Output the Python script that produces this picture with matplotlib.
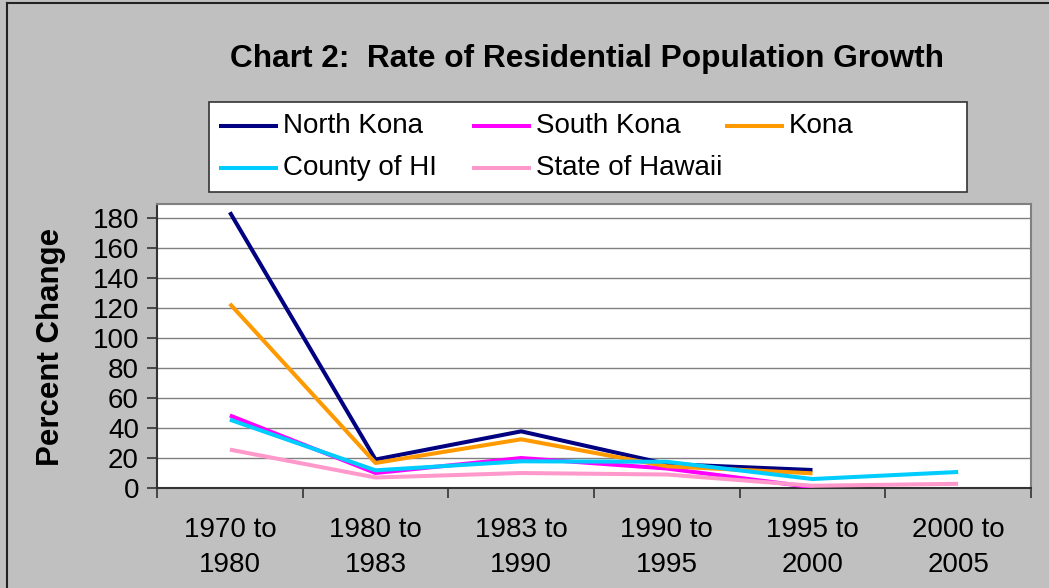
import numpy as np
import matplotlib
matplotlib.use("Agg")
import matplotlib.pyplot as plt
from matplotlib.lines import Line2D
from matplotlib.patches import Rectangle

periods = ["1970 to\n1980", "1980 to\n1983", "1983 to\n1990",
           "1990 to\n1995", "1995 to\n2000", "2000 to\n2005"]
north_kona = [184, 19, 37.8, 16, 12, np.nan]
south_kona = [48.4, 10, 20, 13, 0.5, np.nan]
kona = [122.9, 16.7, 32.5, 14.5, 9.8, np.nan]
county_hi = [45.6, 11.8, 17.8, 17.5, 6, 10.7]
state_hi = [25.6, 7, 10, 9, 1.5, 2.8]

names = ["North Kona", "South Kona", "Kona", "County of HI", "State of Hawaii"]
series = [north_kona, south_kona, kona, county_hi, state_hi]
colors = ["#000080", "#FF00FF", "#FF9900", "#00CCFF", "#FF99CC"]

plt.rcParams["font.family"] = ["Liberation Sans", "DejaVu Sans"]

W, H = 1049, 588
fig = plt.figure(figsize=(W / 100, H / 100), dpi=100)
fig.patch.set_facecolor("#C0C0C0")

def fx(px):
    return px / W

def fy(py):
    return 1 - py / H

# chart border (left and top visible, rest cropped)
fig.add_artist(Line2D([fx(7), fx(7)], [0, fy(3)], color="#222222", lw=1.5))
fig.add_artist(Line2D([fx(7), 1], [fy(3), fy(3)], color="#222222", lw=1.5))

ax = fig.add_axes([fx(157), fy(488), fx(1031) - fx(157), fy(204) - fy(488)])
ax.set_facecolor("white")

x = np.arange(len(periods))
for vals, name, c in zip(series, names, colors):
    ax.plot(x, vals, color=c, lw=2.9, label=name, solid_joinstyle="round",
            solid_capstyle="butt", zorder=3)

ax.set_xlim(-0.5, len(periods) - 0.5)
ax.set_ylim(0, 189.5)
ax.set_yticks(range(0, 181, 20))
ax.yaxis.grid(True, color="#808080", lw=1.0)
ax.set_axisbelow(True)

ax.set_xticks(x)
ax.set_xticklabels(periods, fontsize=20, linespacing=1.45)
ax.set_xticks(np.arange(-0.5, len(periods)), minor=True)
ax.tick_params(axis="x", which="major", length=0, pad=21)
ax.tick_params(axis="x", which="minor", length=7, width=1.2, color="#333333",
               direction="out")
ax.tick_params(axis="y", length=7, width=1.2, color="#333333", direction="out",
               labelsize=20, pad=6)

for s in ["left", "bottom"]:
    ax.spines[s].set_color("#333333")
    ax.spines[s].set_linewidth(1.5)
for s in ["top", "right"]:
    ax.spines[s].set_color("#808080")
    ax.spines[s].set_linewidth(1.5)

fig.text(fx(51), fy(347), "Percent Change", rotation=90, ha="center",
         va="center", fontsize=22.5, fontweight="bold")

fig.text(fx(587.5), fy(67), "Chart 2:  Rate of Residential Population Growth",
         ha="center", va="baseline", fontsize=22.8, fontweight="bold")

# legend box
fig.add_artist(Rectangle((fx(209), fy(192)), fx(967) - fx(209), fy(102) - fy(192),
                         facecolor="white", edgecolor="#333333", lw=1.2,
                         transform=fig.transFigure))
slots = [(219, 126), (472, 126), (725, 126), (219, 168), (472, 168)]
for (px, py), name, c in zip(slots, names, colors):
    fig.add_artist(Line2D([fx(px), fx(px + 59)], [fy(py), fy(py)], color=c, lw=2.9,
                          solid_capstyle="butt"))
    fig.text(fx(px + 64), fy(py), name, ha="left", va="center", fontsize=20)

fig.savefig("out.png", dpi=100, facecolor=fig.get_facecolor())
